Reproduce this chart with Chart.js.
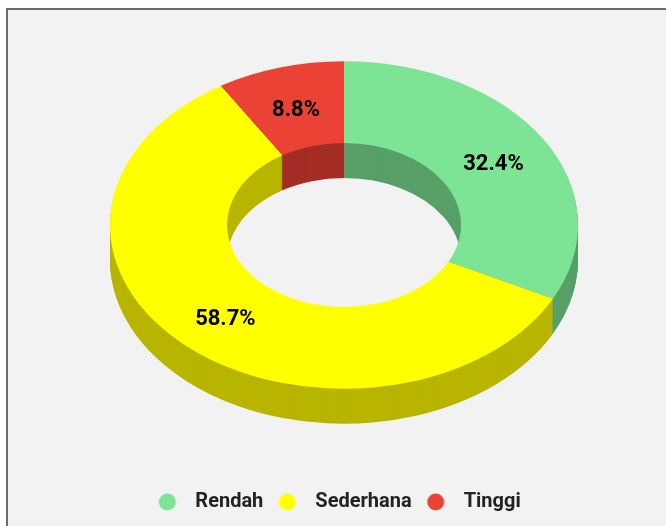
<!DOCTYPE html>
<html>
<head>
<meta charset="utf-8">
<script src="https://cdn.jsdelivr.net/npm/chart.js@4/dist/chart.umd.min.js"></script>
<style>
  html, body { margin: 0; padding: 0; background: #fff; }
  #wrap {
    position: absolute; left: 6px; top: 8px;
    width: 658px; height: 516px;
    border-left: 2px solid #6b6b6b; border-top: 2px solid #6b6b6b;
    background: #f2f2f2;
  }
  canvas { display: block; }
</style>
</head>
<body>
<div id="wrap"><canvas id="donut" width="658" height="516"></canvas></div>
<script>
// data
const categories = ['Rendah', 'Sederhana', 'Tinggi'];
const percentages = [32.4, 58.7, 8.8];

// colours: top face and darker side walls
const topColours = ['#7de495', '#ffff00', '#ea4335'];
const sideColours = ['#57a068', '#b8b500', '#a32e25'];

// fake 3D: squash the ring vertically and stack darker copies underneath
const tilt = 0.7;
const depth = 35;
const centre = { x: 336, y: 215 };

function moveTo3d(ctx, arc, drop) {
  ctx.translate(centre.x - arc.x, centre.y - tilt * arc.y + drop);
  ctx.scale(1, tilt);
}

const donut3d = {
  id: 'donut3d',
  beforeDatasetsDraw(chart) {
    const ctx = chart.ctx;
    const arcs = chart.getDatasetMeta(0).data;
    for (let d = depth; d > 0; d--) {
      arcs.forEach((arc, i) => {
        const saved = arc.options;
        arc.options = Object.assign({}, saved, { backgroundColor: sideColours[i] });
        ctx.save();
        moveTo3d(ctx, arc, d);
        arc.draw(ctx);
        ctx.restore();
        arc.options = saved;
      });
    }
    ctx.save();
    moveTo3d(ctx, arcs[0], 0);
  },
  afterDatasetsDraw(chart) {
    const ctx = chart.ctx;
    ctx.restore();
    const arcs = chart.getDatasetMeta(0).data;
    ctx.save();
    ctx.font = 'bold 22px Roboto';
    ctx.fillStyle = '#000';
    ctx.textAlign = 'center';
    ctx.textBaseline = 'middle';
    arcs.forEach((arc, i) => {
      const p = arc.tooltipPosition();
      const x = p.x + centre.x - arc.x;
      const y = centre.y + (p.y - arc.y) * tilt + 3.5;
      ctx.fillText(percentages[i].toFixed(1) + '%', x, y);
    });
    ctx.restore();
  }
};

// legend markers: circle at the left of a wider box
function marker(colour) {
  const c = document.createElement('canvas');
  c.width = 27; c.height = 18;
  const g = c.getContext('2d');
  g.fillStyle = colour;
  g.beginPath();
  g.arc(9, 9, 8.5, 0, Math.PI * 2);
  g.fill();
  return c;
}
const markers = topColours.map(marker);

new Chart(document.getElementById('donut'), {
  type: 'doughnut',
  data: {
    labels: categories,
    datasets: [{
      data: percentages,
      backgroundColor: topColours,
      borderWidth: 0,
      radius: 234,
      cutout: '50%'
    }]
  },
  options: {
    responsive: false,
    animation: false,
    devicePixelRatio: 1,
    layout: { padding: { left: 5, bottom: 4 } },
    plugins: {
      tooltip: { enabled: false },
      legend: {
        position: 'bottom',
        labels: {
          usePointStyle: true,
          pointStyleWidth: 27,
          padding: 15,
          color: '#222',
          font: { family: 'Roboto', size: 20, weight: 'bold' },
          generateLabels(chart) {
            const items = Chart.overrides.doughnut.plugins.legend.labels.generateLabels(chart);
            items.forEach((it, i) => { it.pointStyle = markers[i]; });
            return items;
          }
        }
      }
    }
  },
  plugins: [donut3d]
});
</script>
</body>
</html>
